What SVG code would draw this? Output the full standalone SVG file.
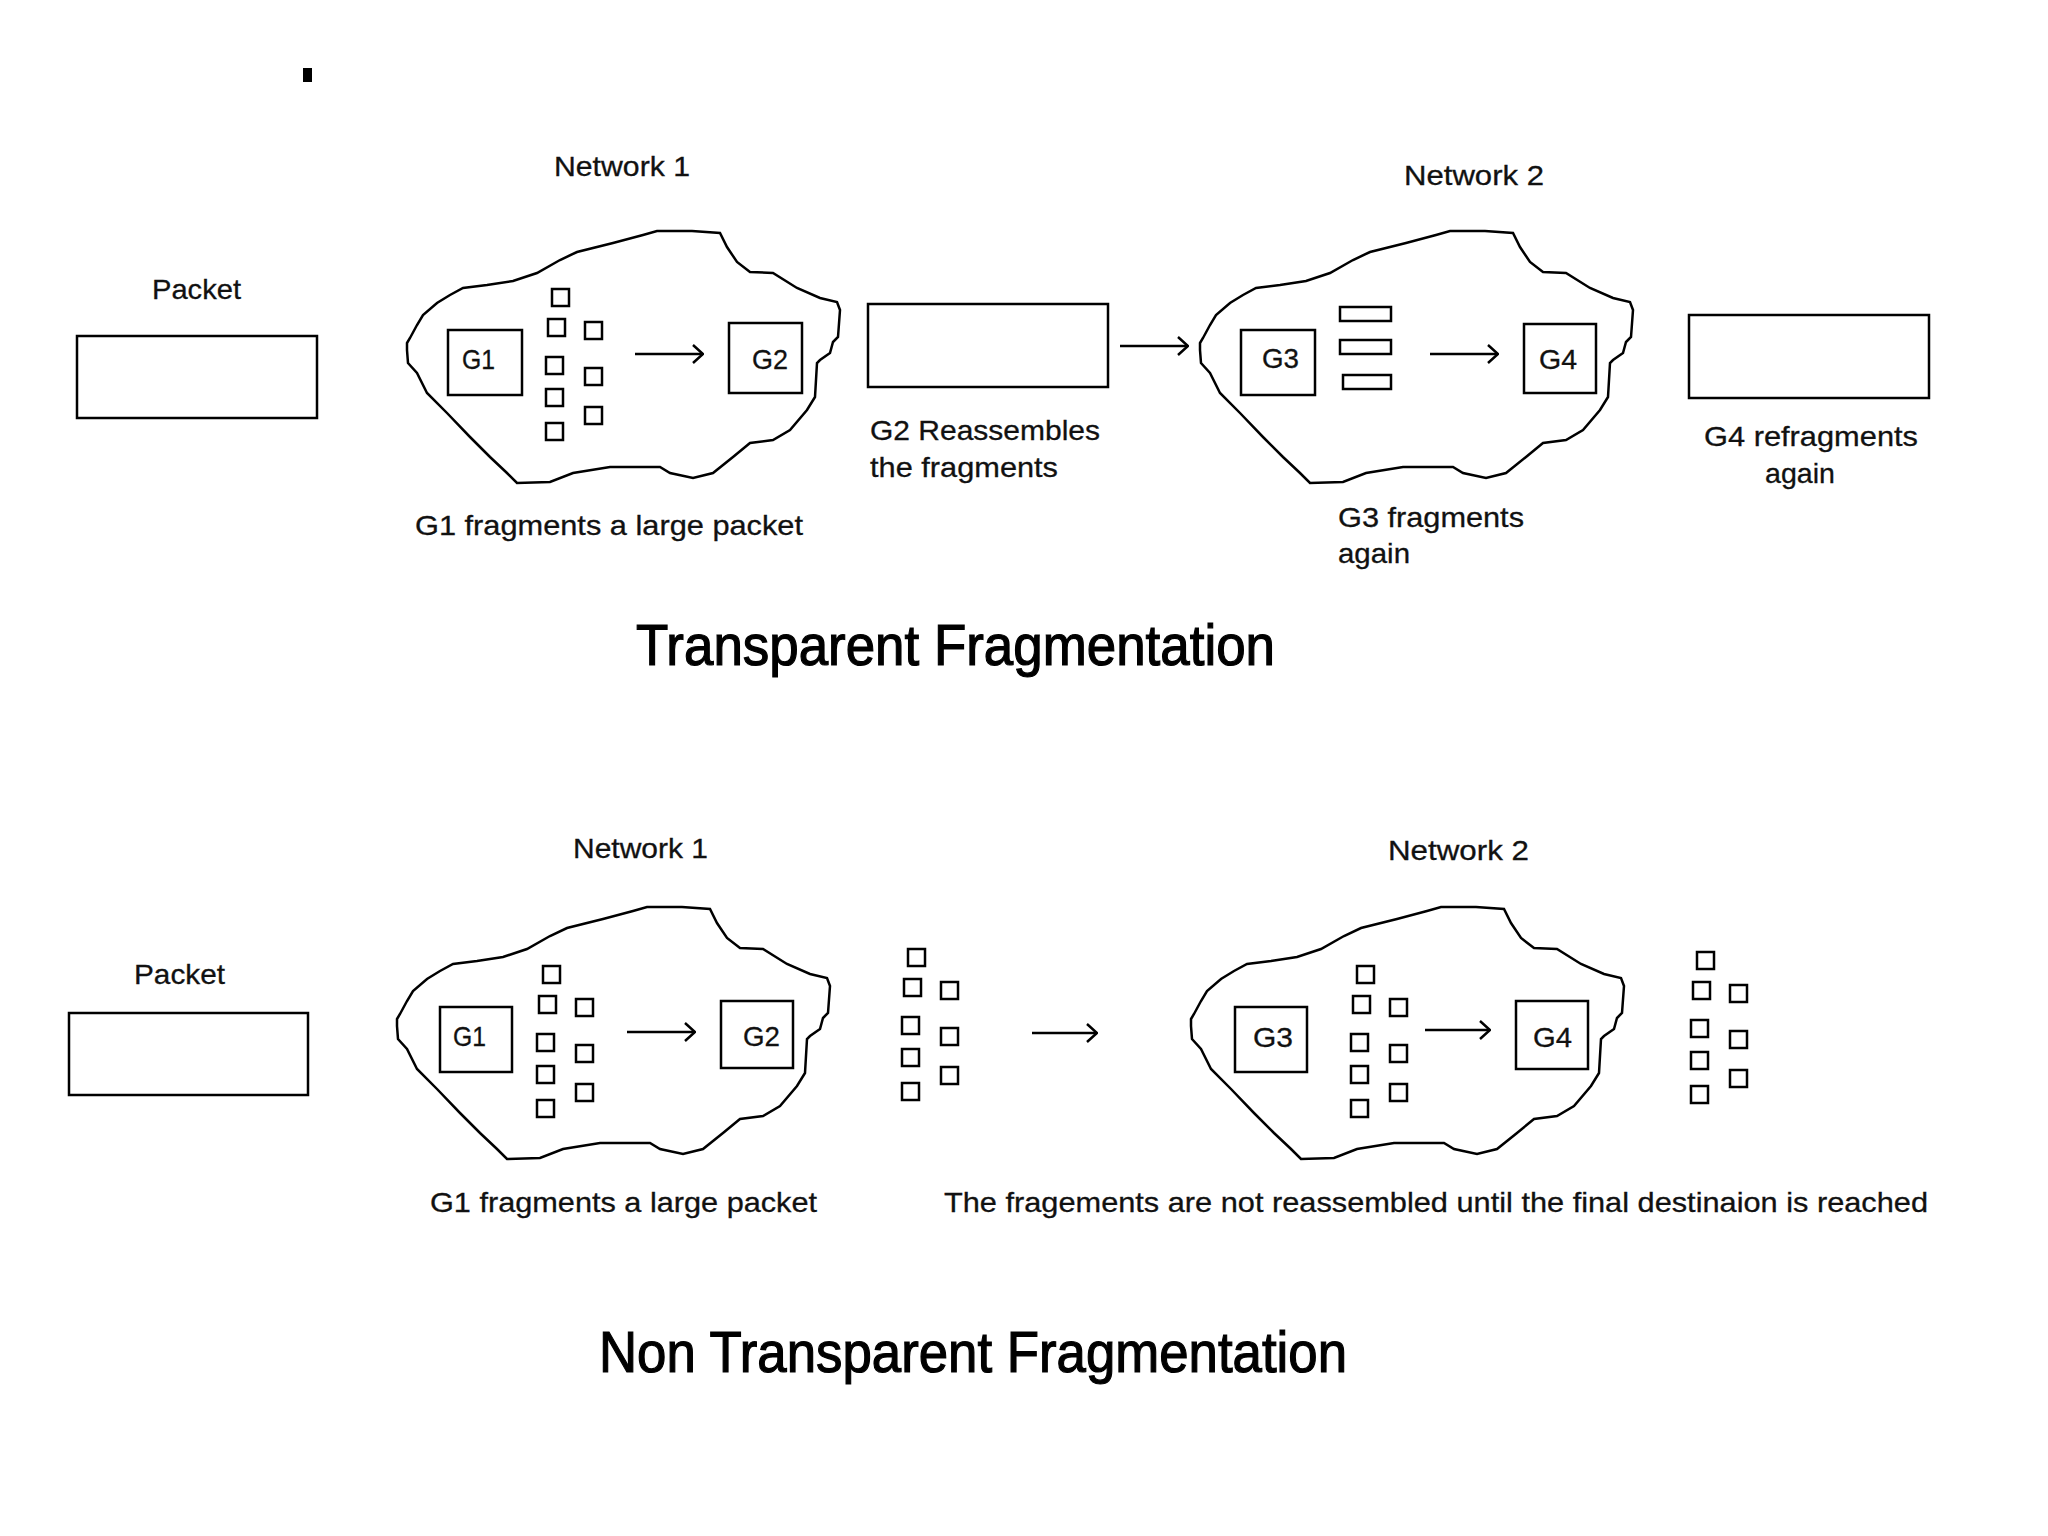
<svg xmlns="http://www.w3.org/2000/svg" xmlns:xlink="http://www.w3.org/1999/xlink" width="2048" height="1536" viewBox="0 0 2048 1536">
<style>
.bx{fill:none;stroke:#000;stroke-width:2.5}
.fr{fill:none;stroke:#000;stroke-width:2.5}
.cl{fill:none;stroke:#000;stroke-width:2.5;stroke-linejoin:miter}
.ln{fill:none;stroke:#000;stroke-width:2.5}
.t{font-family:"Liberation Sans",Arial,sans-serif;font-size:28px;fill:#111;stroke:#111;stroke-width:0.3}
.ttl{font-family:"Liberation Sans",Arial,sans-serif;font-size:57px;fill:#000;stroke:#000;stroke-width:1.2}
</style>
<defs>
<marker id="ah" markerUnits="userSpaceOnUse" viewBox="0 0 12 20" refX="11" refY="10" markerWidth="12" markerHeight="20" orient="auto">
<path d="M1,1 L11,10 L1,19" fill="none" stroke="#000" stroke-width="2.5"/>
</marker>
<path id="cloud" class="cl" d="M0,112 L3,107 L10,94 L16,84 L30,72 L43,64 L56,57 L80,54 L106,50 L130,42 L153,29 L170,21 L206,12 L236,4 L250,0 L285,0 L313,2 L320,16 L330,31 L343,41 L366,42 L390,57 L413,67 L430,71 L433,79 L431,106 L426,111 L423,122 L413,129 L410,132 L408,166 L400,179 L383,199 L366,209 L343,212 L326,226 L306,242 L286,247 L263,242 L253,236 L203,236 L166,242 L143,251 L110,252 L100,242 L83,226 L63,206 L40,182 L20,162 L10,142 L1,132 L0,119 Z"/>
<g id="frags">
<rect class="fr" x="0" y="0" width="17" height="17"/>
<rect class="fr" x="-4" y="30" width="17" height="17"/>
<rect class="fr" x="-6" y="68" width="17" height="17"/>
<rect class="fr" x="-6" y="100" width="17" height="17"/>
<rect class="fr" x="-6" y="134" width="17" height="17"/>
<rect class="fr" x="33" y="33" width="17" height="17"/>
<rect class="fr" x="33" y="79" width="17" height="17"/>
<rect class="fr" x="33" y="118" width="17" height="17"/>
</g>
</defs>
<rect width="2048" height="1536" fill="#fff"/>
<rect x="303" y="68" width="9" height="14" fill="#000"/>

<!-- Transparent fragmentation -->
<g id="packet-top">
<text class="t" x="152" y="299" textLength="89" lengthAdjust="spacingAndGlyphs">Packet</text>
<rect class="bx" x="77" y="336" width="240" height="82"/>
</g>
<g id="network1-top">
<text class="t" x="554" y="176" textLength="136" lengthAdjust="spacingAndGlyphs">Network 1</text>
<use xlink:href="#cloud" transform="translate(407,231)"/>
<rect class="bx" x="448" y="330" width="74" height="65"/>
<text class="t" x="462" y="369" textLength="33" lengthAdjust="spacingAndGlyphs">G1</text>
<use xlink:href="#frags" transform="translate(552,289)"/>
<rect class="bx" x="729" y="323" width="73" height="70"/>
<text class="t" x="752" y="369" textLength="36" lengthAdjust="spacingAndGlyphs">G2</text>
<text class="t" x="415" y="535" textLength="388" lengthAdjust="spacingAndGlyphs">G1 fragments a large packet</text>
</g>
<g id="reassembled-top">
<rect class="bx" x="868" y="304" width="240" height="83"/>
<text class="t" x="870" y="440" textLength="230" lengthAdjust="spacingAndGlyphs">G2 Reassembles</text>
<text class="t" x="870" y="477" textLength="188" lengthAdjust="spacingAndGlyphs">the fragments</text>
</g>
<g id="network2-top">
<text class="t" x="1404" y="185" textLength="140" lengthAdjust="spacingAndGlyphs">Network 2</text>
<use xlink:href="#cloud" transform="translate(1200,231)"/>
<rect class="bx" x="1241" y="330" width="74" height="65"/>
<text class="t" x="1262" y="368" textLength="37" lengthAdjust="spacingAndGlyphs">G3</text>
<rect class="fr" x="1340" y="307" width="51" height="14"/>
<rect class="fr" x="1340" y="340" width="51" height="14"/>
<rect class="fr" x="1343" y="375" width="48" height="14"/>
<rect class="bx" x="1524" y="324" width="72" height="69"/>
<text class="t" x="1539" y="369" textLength="38" lengthAdjust="spacingAndGlyphs">G4</text>
<text class="t" x="1338" y="527" textLength="186" lengthAdjust="spacingAndGlyphs">G3 fragments</text>
<text class="t" x="1338" y="563" textLength="72" lengthAdjust="spacingAndGlyphs">again</text>
</g>
<g id="packet4-top">
<rect class="bx" x="1689" y="315" width="240" height="83"/>
<text class="t" x="1704" y="446" textLength="214" lengthAdjust="spacingAndGlyphs">G4 refragments</text>
<text class="t" x="1765" y="483" textLength="70" lengthAdjust="spacingAndGlyphs">again</text>
</g>
<text class="ttl" x="636" y="665" textLength="639" lengthAdjust="spacingAndGlyphs">Transparent Fragmentation</text>

<!-- Non transparent fragmentation -->
<g id="packet-bottom">
<text class="t" x="134" y="984" textLength="91" lengthAdjust="spacingAndGlyphs">Packet</text>
<rect class="bx" x="69" y="1013" width="239" height="82"/>
</g>
<g id="network1-bottom">
<text class="t" x="573" y="858" textLength="135" lengthAdjust="spacingAndGlyphs">Network 1</text>
<use xlink:href="#cloud" transform="translate(397,907)"/>
<rect class="bx" x="440" y="1007" width="72" height="65"/>
<text class="t" x="453" y="1046" textLength="33" lengthAdjust="spacingAndGlyphs">G1</text>
<use xlink:href="#frags" transform="translate(543,966)"/>
<rect class="bx" x="721" y="1001" width="72" height="67"/>
<text class="t" x="743" y="1046" textLength="37" lengthAdjust="spacingAndGlyphs">G2</text>
<text class="t" x="430" y="1212" textLength="387" lengthAdjust="spacingAndGlyphs">G1 fragments a large packet</text>
</g>
<g id="fragments-middle">
<use xlink:href="#frags" transform="translate(908,949)"/>
</g>
<g id="network2-bottom">
<text class="t" x="1388" y="860" textLength="141" lengthAdjust="spacingAndGlyphs">Network 2</text>
<use xlink:href="#cloud" transform="translate(1191,907)"/>
<rect class="bx" x="1235" y="1007" width="72" height="65"/>
<text class="t" x="1253" y="1047" textLength="40" lengthAdjust="spacingAndGlyphs">G3</text>
<use xlink:href="#frags" transform="translate(1357,966)"/>
<rect class="bx" x="1516" y="1001" width="72" height="68"/>
<text class="t" x="1533" y="1047" textLength="39" lengthAdjust="spacingAndGlyphs">G4</text>
</g>
<g id="fragments-right">
<use xlink:href="#frags" transform="translate(1697,952)"/>
</g>
<text class="t" x="944" y="1212" textLength="984" lengthAdjust="spacingAndGlyphs">The fragements are not reassembled until the final destinaion is reached</text>
<text class="ttl" x="599" y="1372" textLength="748" lengthAdjust="spacingAndGlyphs">Non Transparent Fragmentation</text>

<g id="connectors">
<line class="ln" x1="635" y1="354" x2="703" y2="354" marker-end="url(#ah)"/>
<line class="ln" x1="1120" y1="346" x2="1188" y2="346" marker-end="url(#ah)"/>
<line class="ln" x1="1430" y1="354" x2="1498" y2="354" marker-end="url(#ah)"/>
<line class="ln" x1="627" y1="1032" x2="695" y2="1032" marker-end="url(#ah)"/>
<line class="ln" x1="1032" y1="1033" x2="1097" y2="1033" marker-end="url(#ah)"/>
<line class="ln" x1="1425" y1="1030" x2="1490" y2="1030" marker-end="url(#ah)"/>
</g>
</svg>
